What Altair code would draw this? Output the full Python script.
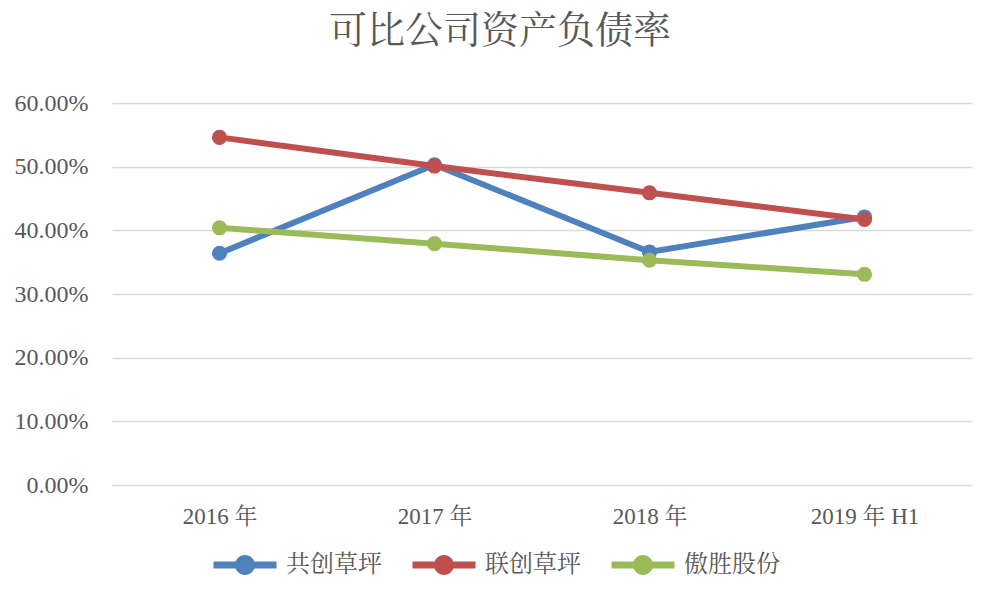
import altair as alt
import pandas as pd

years = ["2016 年", "2017 年", "2018 年", "2019 年 H1"]
series_names = ["共创草坪", "联创草坪", "傲胜股份"]
gongchuang = [36.4, 50.3, 36.6, 42.1]
lianchuang = [54.6, 50.1, 45.9, 41.7]
aosheng = [40.4, 37.9, 35.3, 33.1]
colors = ["#4F81BD", "#C0504D", "#9BBB59"]
y_ticks = [0, 0.1, 0.2, 0.3, 0.4, 0.5, 0.6]

rows = []
for name, vals in zip(series_names, [gongchuang, lianchuang, aosheng]):
    for yr, v in zip(years, vals):
        rows.append({"year": yr, "series": name, "value": v / 100})
df = pd.DataFrame(rows)

FONT = "Liberation Serif, Noto Serif CJK SC, Noto Sans CJK SC, serif"
TXT = "#595959"

legend_path = ("M-2.1,-0.23H2.1V0.23H-2.1Z "
               "M0.67,0A0.67,0.67 0 1,1 -0.67,0A0.67,0.67 0 1,1 0.67,0Z")

color = alt.Color(
    "series:N",
    scale=alt.Scale(domain=series_names, range=colors),
    legend=alt.Legend(
        title=None, orient="none", direction="horizontal",
        legendX=118, legendY=447,
        symbolType=legend_path, symbolSize=900, symbolStrokeWidth=0,
        labelFont=FONT, labelFontSize=24, labelColor=TXT,
        labelOffset=26, columnPadding=30,
    ),
)

x = alt.X(
    "year:N", sort=years,
    scale=alt.Scale(type="point", padding=0.5),
    axis=alt.Axis(title=None, labelAngle=0, ticks=False, domain=False, grid=False,
                  labelFont=FONT, labelFontSize=23, labelColor=TXT, labelPadding=20),
)
y = alt.Y(
    "value:Q",
    scale=alt.Scale(domain=[0, 0.6]),
    axis=alt.Axis(title=None, format=".2%", values=y_ticks, grid=True,
                  gridColor="#D9D9D9", gridWidth=1.5, domain=False, ticks=False,
                  labelFont=FONT, labelFontSize=24, labelColor=TXT, labelPadding=24),
)

base = alt.Chart(df)
layers = []
for name in series_names:
    sub = base.transform_filter(alt.datum.series == name)
    layers.append(sub.mark_line(strokeWidth=6).encode(x=x, y=y, color=color))
    layers.append(sub.mark_point(filled=True, size=230, opacity=1).encode(x=x, y=y, color=color))

chart = alt.layer(*layers).properties(
    width=860, height=382,
    title=alt.TitleParams("可比公司资产负债率", font=FONT, fontSize=38, fontWeight="normal",
                          color=TXT, anchor="middle", dx=-42, offset=40),
    autosize=alt.AutoSizeParams(type="none"),
    padding={"left": 104, "top": 95, "right": 19, "bottom": 106},
    background="white",
).configure_view(stroke=None).configure_legend(padding=0)

chart.save("out.html", embed_options={"renderer": "svg", "actions": False})
